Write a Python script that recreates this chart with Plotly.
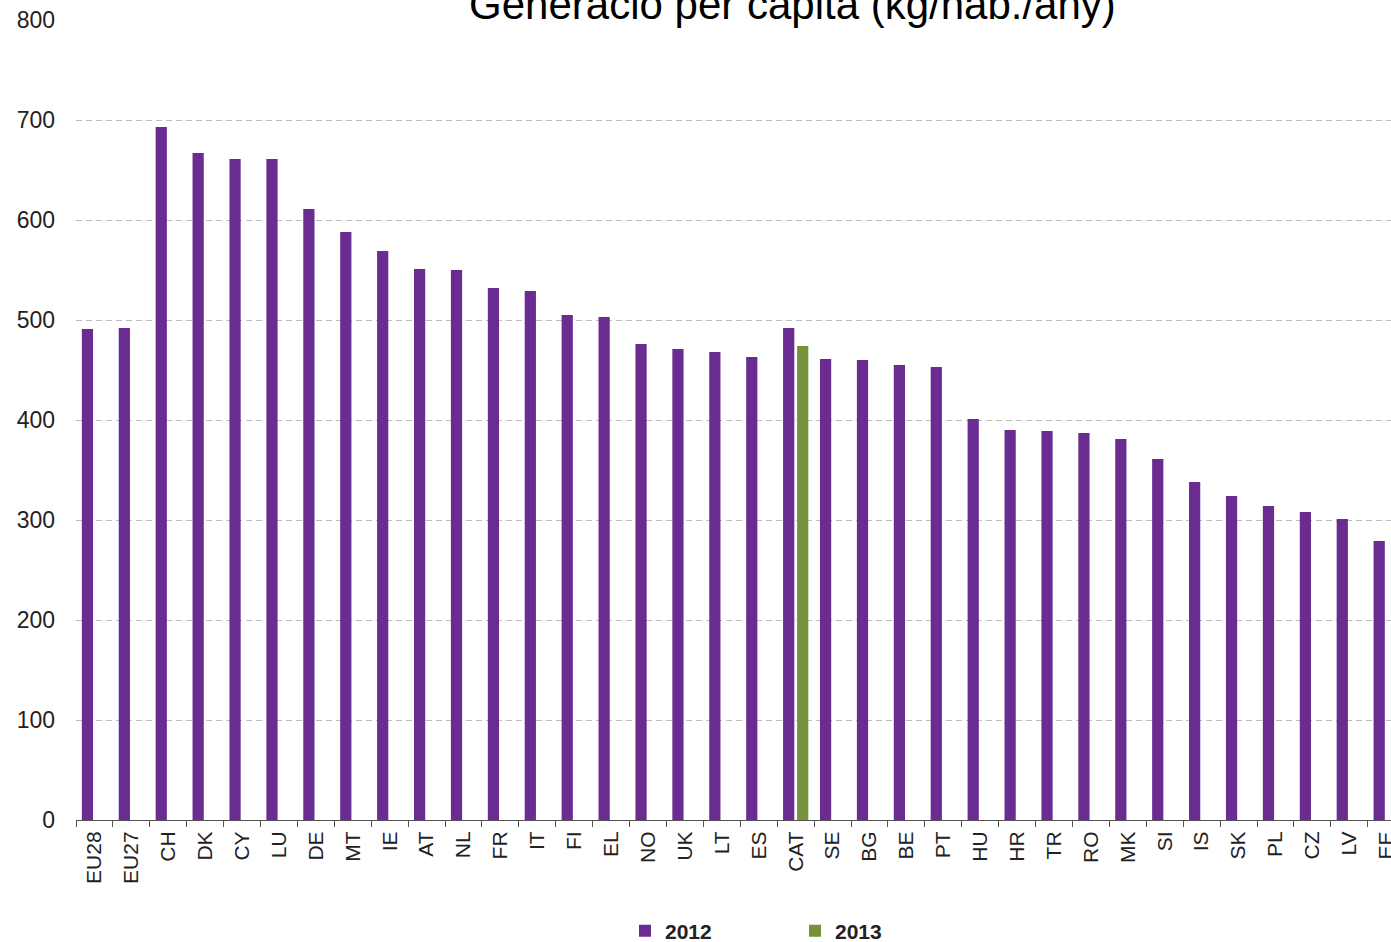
import plotly.graph_objects as go

categories = ["EU28", "EU27", "CH", "DK", "CY", "LU", "DE", "MT", "IE", "AT", "NL", "FR",
              "IT", "FI", "EL", "NO", "UK", "LT", "ES", "CAT", "SE", "BG", "BE", "PT",
              "HU", "HR", "TR", "RO", "MK", "SI", "IS", "SK", "PL", "CZ", "LV", "EE"]

values_2012 = [491, 492, 693, 667, 661, 661, 611, 588, 569, 551, 550, 532,
               529, 505, 503, 476, 471, 468, 463, 492, 461, 460, 455, 453,
               401, 390, 389, 387, 381, 361, 338, 324, 314, 308, 301, 279]

values_2013 = [None] * 19 + [474] + [None] * 16

title_text = "Generació per càpita (kg/hab./any)"
y_ticks = [0, 100, 200, 300, 400, 500, 600, 700, 800]

PURPLE = "#6A2C91"
GREEN = "#76933C"
FONT = "Liberation Sans, Arial, sans-serif"

fig = go.Figure()
fig.add_trace(go.Bar(x=categories, y=values_2012, name="2012", marker=dict(color=PURPLE, line=dict(width=0))))
fig.add_trace(go.Bar(x=categories, y=values_2013, name="2013", marker=dict(color=GREEN, line=dict(width=0))))

fig.update_layout(
    width=1391, height=942,
    margin=dict(l=76, r=0, t=20, b=122, autoexpand=False),
    paper_bgcolor="white", plot_bgcolor="white",
    barmode="group", bargap=0.24, bargroupgap=0.2,
    font=dict(family=FONT, color="#222222"),
    title=dict(text=title_text, x=0.5697, xanchor="center", xref="container",
               y=1 - 19 / 942, yanchor="bottom", yref="container",
               font=dict(family=FONT, size=42, color="#000000")),
    showlegend=True,
    legend=dict(orientation="h", x=625 / 1391, xanchor="left", xref="container",
                y=1 - 931 / 942, yanchor="middle", yref="container",
                font=dict(family=FONT, size=21, weight="bold", color="#222222"),
                entrywidth=125, entrywidthmode="pixels",
                itemwidth=30, bgcolor="rgba(0,0,0,0)"),
)

fig.update_xaxes(
    type="category", range=[-0.5, 35.13], automargin=False,
    showline=True, linecolor="#555555", linewidth=1,
    ticks="outside", tickson="boundaries", ticklen=6, tickcolor="#555555",
    tickangle=-90, tickfont=dict(family=FONT, size=21, color="#222222"),
    showgrid=False, ticklabelstandoff=2,
)
fig.update_yaxes(
    range=[0, 800], tickvals=y_ticks, automargin=False,
    showgrid=True, gridcolor="#BFBFBF", gridwidth=1, griddash="6px,4px",
    zeroline=False, showline=False, ticks="",
    tickfont=dict(family=FONT, size=23, color="#222222"),
    ticklabelstandoff=20,
)

fig.write_html("out.html", config={"displayModeBar": False},
               post_script="document.body.style.margin='0';")
